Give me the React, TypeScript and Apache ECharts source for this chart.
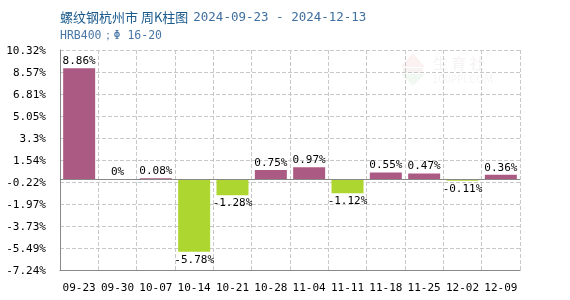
import React, { useEffect, useRef } from "react";
import * as echarts from "echarts";

const categories = ["09-23", "09-30", "10-07", "10-14", "10-21", "10-28", "11-04", "11-11", "11-18", "11-25", "12-02", "12-09"];
const changes = [8.86, 0, 0.08, -5.78, -1.28, 0.75, 0.97, -1.12, 0.55, 0.47, -0.11, 0.36];
const yTickLabels = ["-7.24%", "-5.49%", "-3.73%", "-1.97%", "-0.22%", "1.54%", "3.3%", "5.05%", "6.81%", "8.57%", "10.32%"];
const yMin = -7.24;
const yMax = 10.32;

const MONO = "DejaVu Sans Mono";
const UP = "#ab5a84";
const DOWN = "#add630";

export default function App() {
  const ref = useRef<HTMLDivElement>(null);
  useEffect(() => {
    if (!ref.current) return;
    const chart = echarts.init(ref.current, null, { renderer: "svg" });
    chart.setOption({
      animation: false,
      title: {
        text: "{a|螺纹钢杭州市 周K柱图} {b|2024-09-23 - 2024-12-13}",
        subtext: "HRB400；Φ 16-20",
        left: 55,
        top: 2,
        itemGap: 4,
        textStyle: {
          fontWeight: "normal",
          rich: {
            a: { fontFamily: "Noto Sans CJK SC", fontSize: 13, color: "#1b5a8c", fontWeight: "normal" },
            b: { fontFamily: MONO, fontSize: 12.5, color: "#3f6f9e", fontWeight: "normal" },
          },
        },
        subtextStyle: { fontFamily: MONO, fontSize: 11.5, color: "#4a78a6" },
      },
      graphic: [
        {
          type: "group",
          silent: true,
          children: [
            { type: "polygon", shape: { points: [[401, 67], [413, 53], [425, 67]] }, style: { fill: "#fbf1f1" } },
            { type: "rect", shape: { x: 403, y: 68, width: 20, height: 5 }, style: { fill: "#f7f3f3" } },
            { type: "polygon", shape: { points: [[401, 74], [425, 74], [413, 86]] }, style: { fill: "#f1f8f2" } },
            { type: "text", x: 433, y: 55, style: { text: "生 育 社", fontFamily: "Noto Sans CJK SC", fontSize: 15, fill: "#f5f2f3" } },
            { type: "text", x: 432, y: 74, style: { text: "100PPI.COM", fontFamily: "DejaVu Sans", fontSize: 10, fill: "#f5f5f7" } },
          ],
        },
      ],
      grid: { left: 60, right: 50, top: 50, bottom: 30, containLabel: false },
      xAxis: {
        type: "category",
        data: categories,
        axisLine: { onZero: false, lineStyle: { color: "#888888", width: 1 } },
        axisTick: { show: false },
        axisLabel: { interval: 0, fontFamily: MONO, fontSize: 11, color: "#000", margin: 12 },
        splitLine: { show: true, interval: 0, lineStyle: { type: "dashed", color: "#c8c8c8" } },
      },
      yAxis: [
        { type: "value", min: yMin, max: yMax, show: false, splitLine: { show: false } },
        {
          type: "value",
          min: 0,
          max: 10,
          interval: 1,
          position: "left",
          axisLine: { show: true, lineStyle: { color: "#888888" } },
          axisTick: { show: false },
          axisLabel: {
            fontFamily: MONO,
            fontSize: 11,
            color: "#000",
            margin: 14,
            formatter: (v: number) => yTickLabels[Math.round(v)] ?? "",
          },
          splitLine: { show: true, lineStyle: { type: "dashed", color: "#c8c8c8" } },
        },
      ],
      series: [
        {
          type: "bar",
          yAxisIndex: 0,
          barWidth: 32,
          data: changes.map((v) => ({
            value: v,
            itemStyle: { color: v >= 0 ? UP : DOWN },
            label: { position: v < 0 ? "bottom" : "top" },
          })),
          label: {
            show: true,
            fontFamily: MONO,
            fontSize: 11,
            color: "#000",
            distance: 2,
            formatter: (p: any) => `${p.value}%`,
          },
          markLine: {
            silent: true,
            symbol: "none",
            label: { show: false },
            lineStyle: { type: "solid", color: "#888888", width: 1 },
            data: [{ yAxis: 0 }],
          },
        },
      ],
    });
    return () => chart.dispose();
  }, []);
  return <div ref={ref} style={{ width: 570, height: 300, position: "fixed", left: 0, top: 0 }} />;
}
